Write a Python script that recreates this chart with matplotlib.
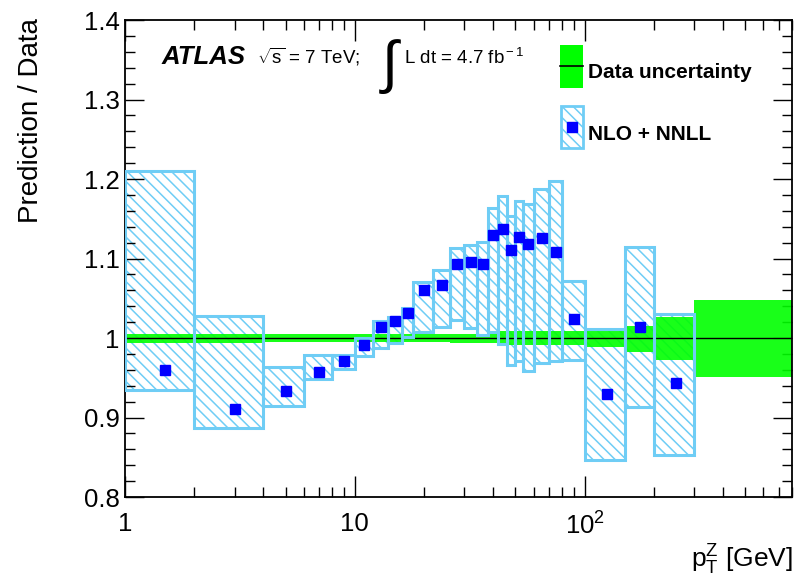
import numpy as np
import matplotlib
matplotlib.use("Agg")
import matplotlib.pyplot as plt
from matplotlib.patches import Rectangle
from matplotlib.lines import Line2D
from matplotlib.ticker import FixedLocator, FixedFormatter, LogLocator, MultipleLocator, NullFormatter

plt.rcParams['font.family'] = ['Liberation Sans', 'DejaVu Sans']
plt.rcParams['mathtext.fontset'] = 'custom'
plt.rcParams['mathtext.rm'] = 'Liberation Sans'
plt.rcParams['mathtext.it'] = 'Liberation Sans:italic'
plt.rcParams['mathtext.bf'] = 'Liberation Sans:bold'
plt.rcParams['hatch.linewidth'] = 1.1

# ---------------- data ----------------
bin_edges = [1, 2, 4, 6, 8, 10, 12, 14, 16, 18, 22, 26, 30, 34, 38, 42, 46, 50, 54, 60,
             70, 80, 100, 150, 200, 300, 800]
pred_x = [1.5, 3, 5, 7, 9, 11, 13, 15, 17, 20, 24, 28, 32, 36, 40, 44, 48, 52, 57, 65,
          75, 90, 125, 175, 250]
pred_val = [0.960, 0.911, 0.933, 0.957, 0.971, 0.991, 1.014, 1.022, 1.031, 1.060, 1.067,
            1.093, 1.095, 1.093, 1.129, 1.137, 1.111, 1.127, 1.118, 1.126, 1.108, 1.024,
            0.930, 1.014, 0.944]
pred_hi = [1.210, 1.028, 0.964, 0.978, 0.979, 1.000, 1.022, 1.026, 1.038, 1.070, 1.085,
           1.113, 1.117, 1.121, 1.164, 1.179, 1.154, 1.172, 1.169, 1.188, 1.198, 1.072,
           1.011, 1.115, 1.030]
pred_lo = [0.934, 0.887, 0.915, 0.949, 0.961, 0.977, 0.988, 0.994, 1.001, 1.007, 1.014,
           1.023, 1.013, 1.004, 1.007, 0.993, 0.966, 0.971, 0.959, 0.968, 0.971, 0.972,
           0.846, 0.913, 0.853]
data_up = [0.0055, 0.0055, 0.0045, 0.0045, 0.0045, 0.0045, 0.0045, 0.0045, 0.0045, 0.0045,
           0.0045, 0.0045, 0.0045, 0.0045, 0.0045, 0.009, 0.009, 0.009, 0.009, 0.009,
           0.009, 0.009, 0.0095, 0.015, 0.027, 0.048]
data_dn = [0.0065, 0.0065, 0.0045, 0.0045, 0.0045, 0.0045, 0.0045, 0.0045, 0.0045, 0.005,
           0.005, 0.006, 0.006, 0.006, 0.006, 0.009, 0.009, 0.009, 0.009, 0.009,
           0.009, 0.009, 0.011, 0.017, 0.028, 0.049]
x_ticks = [1, 10, 100]
x_ticklabels = ['1', '10', r'10$^{2}$']
y_ticks = [0.8, 0.9, 1.0, 1.1, 1.2, 1.3, 1.4]
y_ticklabels = ['0.8', '0.9', '1', '1.1', '1.2', '1.3', '1.4']

BOX = '#6fcdf5'
GREEN = '#00ff00'
W, H = 810, 584

fig = plt.figure(figsize=(8.1, 5.84), dpi=100)
ax = fig.add_axes([125 / W, 1 - 497 / H, (792 - 125) / W, (497 - 20) / H])
ax.set_xscale('log')
ax.set_xlim(1, 800)
ax.set_ylim(0.8, 1.4)

edges = np.array(bin_edges, dtype=float)
lefts = edges[:-1]
widths = np.diff(edges)
npred = len(pred_val)
ph = np.array(pred_hi)
pl = np.array(pred_lo)

# hatch fill of prediction boxes
ax.bar(lefts[:npred], ph - pl, width=widths[:npred], bottom=pl, align='edge',
       fill=False, hatch='\\\\\\', edgecolor=BOX, linewidth=0, zorder=1)
# data uncertainty band
du = np.array(data_up)
dd = np.array(data_dn)
ax.bar(lefts, du + dd, width=widths, bottom=1 - dd, align='edge',
       color=GREEN, alpha=0.9, linewidth=0, zorder=2)
ax.plot([edges[0], edges[-1]], [1, 1], color='black', lw=1.0, zorder=2.5)
# box outlines
ax.bar(lefts[:npred], ph - pl, width=widths[:npred], bottom=pl, align='edge',
       fill=False, edgecolor=BOX, linewidth=2.2, zorder=3)
# prediction points
ax.plot(pred_x, pred_val, 's', color='#0000ff', markersize=6.5, zorder=4, mec='#0000ff')

# ticks
ax.xaxis.set_major_locator(FixedLocator(x_ticks))
ax.xaxis.set_major_formatter(FixedFormatter(x_ticklabels))
ax.xaxis.set_minor_locator(LogLocator(base=10, subs=np.arange(2, 10), numticks=20))
ax.xaxis.set_minor_formatter(NullFormatter())
ax.yaxis.set_major_locator(FixedLocator(y_ticks))
ax.yaxis.set_major_formatter(FixedFormatter(y_ticklabels))
ax.yaxis.set_minor_locator(MultipleLocator(0.02))
ax.tick_params(which='both', direction='in', top=True, right=True, width=1.0, color='black')
ax.tick_params(axis='x', which='major', length=15, labelsize=18.5, pad=11)
ax.tick_params(axis='x', which='minor', length=7.5)
ax.tick_params(axis='y', which='major', length=13.5, labelsize=18.5, pad=4)
ax.tick_params(axis='y', which='minor', length=7)
for s in ax.spines.values():
    s.set_linewidth(1.3)

# axis titles
fig.text(31 / W, 1 - 18 / H, 'Prediction / Data', rotation=90, ha='center', va='top',
         fontsize=20)
fig.text(793 / W, 1 - 568 / H, r'p$_{\rm T}^{\rm Z}$ [GeV]', ha='right', va='baseline',
         fontsize=19)

# ATLAS label
fig.text(162 / W, 1 - 64 / H, 'ATLAS', fontsize=18.5, fontweight='bold', fontstyle='italic',
         ha='left', va='baseline')
fig.text(257 / W, 1 - 64 / H, r'$\sqrt{\rm s}$ = 7 TeV;', fontsize=13.5, ha='left',
         va='baseline')
fig.text(382 / W, 1 - 82 / H, '\u222b', fontsize=42, ha='left', va='baseline')
fig.text(404 / W, 1 - 64 / H, r'L dt = 4.7 fb$^{\rm -1}$', fontsize=13.5, ha='left',
         va='baseline')

# legend (manual)
def fx(px):
    return px / W

def fy(py):
    return 1 - py / H

fig.add_artist(Rectangle((fx(560), fy(88)), 23 / W, 43 / H, transform=fig.transFigure,
                         facecolor=GREEN, edgecolor='none'))
fig.add_artist(Line2D([fx(560), fx(583)], [fy(66), fy(66)], transform=fig.transFigure,
                      color='black', lw=1.2))
fig.text(588 / W, 1 - 78 / H, 'Data uncertainty', fontsize=15, fontweight='bold',
         ha='left', va='baseline')
fig.add_artist(Rectangle((fx(561), fy(148)), 22 / W, 42 / H, transform=fig.transFigure,
                         facecolor='none', edgecolor=BOX, hatch='\\\\\\', linewidth=2.0))
fig.add_artist(Line2D([fx(571.5)], [fy(127)], transform=fig.transFigure, marker='s',
                      color='#0000ff', markersize=6.5, linestyle='none'))
fig.text(588 / W, 1 - 140 / H, 'NLO + NNLL', fontsize=15, fontweight='bold',
         ha='left', va='baseline')

fig.savefig('out.png', dpi=100)
